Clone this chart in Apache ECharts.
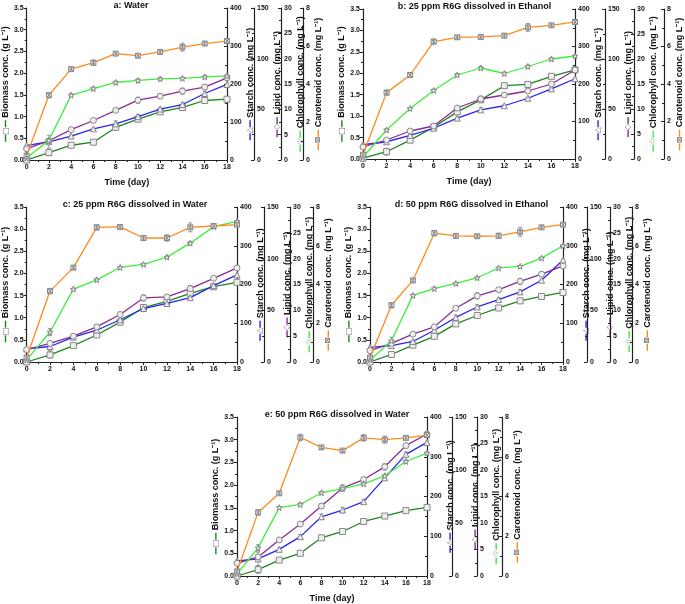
<!DOCTYPE html>
<html><head><meta charset="utf-8">
<script src="https://cdn.jsdelivr.net/npm/echarts@6/dist/echarts.min.js"></script>
<style>html,body{margin:0;background:#fff}#c{width:685px;height:604px}</style>
</head><body><div id="c"></div>
<script>
const days = [0, 2, 4, 6, 8, 10, 12, 14, 16, 18];
const panelTitles = ['a: Water', 'b: 25 ppm R6G dissolved in Ethanol', 'c: 25 ppm R6G dissolved in Water', 'd: 50 ppm R6G dissolved in Ethanol', 'e: 50 ppm R6G dissolved in Water'];
const seriesNames = ['Biomass conc. (g L⁻¹)', 'Starch conc. (mg L⁻¹)', 'Lipid conc. (mg L⁻¹)', 'Chlorophyll conc. (mg L⁻¹)', 'Carotenoid conc. (mg L⁻¹)'];
const axisMax = [3.5, 400, 150, 30, 8];
const axisInterval = [0.5, 100, 50, 5, 2];

// a: Water
const biomassA = [0.00, 0.17, 0.34, 0.41, 0.75, 0.94, 1.11, 1.21, 1.37, 1.40];
const starchA = [38, 48, 63, 82, 95, 114, 134, 146, 175, 199];
const lipidA = [11, 19, 30, 39, 49, 59, 63, 68, 72, 81];
const chlA = [0.4, 3.9, 12.8, 14.1, 15.3, 15.7, 16.0, 16.1, 16.4, 16.6];
const carA = [0.23, 3.41, 4.78, 5.12, 5.60, 5.49, 5.69, 5.94, 6.13, 6.26];
// b: 25 ppm Ethanol
const biomassB = [0.02, 0.17, 0.44, 0.74, 1.10, 1.38, 1.71, 1.74, 1.93, 2.08];
const starchB = [38, 46, 63, 82, 109, 131, 142, 162, 187, 214];
const lipidB = [12, 19, 28, 33, 51, 60, 64, 68, 75, 89];
const chlB = [0.4, 5.8, 10.1, 13.7, 16.8, 18.2, 17.1, 18.5, 20.0, 20.6];
const carB = [0.23, 3.54, 4.48, 6.26, 6.49, 6.51, 6.58, 7.02, 7.13, 7.31];
// c: 25 ppm Water
const biomassC = [0.00, 0.16, 0.37, 0.61, 0.90, 1.23, 1.37, 1.55, 1.70, 1.80];
const starchC = [34, 40, 64, 82, 109, 138, 151, 166, 197, 225];
const lipidC = [12, 18, 25, 34, 46, 62, 63, 71, 81, 91];
const chlC = [0.4, 5.8, 14.1, 15.9, 18.3, 18.9, 20.3, 23.0, 26.2, 27.2];
const carC = [0.23, 3.66, 4.87, 6.95, 6.97, 6.40, 6.40, 6.95, 7.02, 7.09];
// d: 50 ppm Ethanol
const biomassD = [0.00, 0.17, 0.38, 0.58, 0.86, 1.05, 1.22, 1.38, 1.48, 1.57];
const starchD = [38, 42, 53, 82, 115, 142, 161, 181, 211, 263];
const lipidD = [11, 18, 27, 34, 52, 64, 70, 78, 85, 93];
const chlD = [0.4, 4.1, 12.9, 14.2, 15.2, 16.3, 18.2, 18.5, 20.1, 22.5];
const carD = [0.23, 2.93, 4.21, 6.65, 6.51, 6.49, 6.51, 6.72, 6.95, 7.09];
// e: 50 ppm Water
const biomassE = [0.00, 0.14, 0.35, 0.50, 0.84, 0.98, 1.20, 1.32, 1.44, 1.51];
const starchE = [38, 43, 67, 99, 149, 166, 187, 247, 306, 336];
const lipidE = [12, 18, 34, 49, 66, 83, 91, 103, 123, 134];
const chlE = [0.4, 5.3, 12.9, 13.5, 15.7, 16.5, 17.4, 18.9, 21.6, 23.2];
const carE = [0.23, 3.20, 4.16, 6.97, 6.47, 6.31, 6.95, 6.86, 6.95, 7.09];

// standard deviations (error bars), same units as the series
const biomassErrA = [0.02, 0.07, 0.02, 0.03, 0.03, 0.03, 0.03, 0.03, 0.05, 0.02];
const starchErrA = [2, 17, 3, 2, 8, 6, 5, 5, 6, 2];
const lipidErrA = [1, 2, 2, 1, 2, 3, 2, 3, 2, 1];
const chlErrA = [0.2, 0.3, 0.3, 0.3, 0.3, 0.3, 0.3, 0.3, 0.3, 0.2];
const carErrA = [0.05, 0.14, 0.07, 0.14, 0.09, 0.07, 0.11, 0.21, 0.07, 0.07];

const biomassErrB = [0.02, 0.08, 0.02, 0.03, 0.03, 0.03, 0.02, 0.03, 0.03, 0.02];
const starchErrB = [2, 3, 3, 3, 3, 6, 3, 3, 3, 2];
const lipidErrB = [1, 2, 2, 2, 2, 3, 2, 2, 2, 1];
const chlErrB = [0.2, 0.3, 0.2, 0.3, 0.3, 0.3, 0.3, 0.3, 0.3, 0.2];
const carErrB = [0.05, 0.14, 0.07, 0.14, 0.09, 0.07, 0.11, 0.21, 0.07, 0.05];

const biomassErrC = [0.02, 0.07, 0.02, 0.03, 0.03, 0.04, 0.03, 0.03, 0.05, 0.02];
const starchErrC = [2, 11, 3, 3, 3, 8, 5, 5, 5, 2];
const lipidErrC = [1, 2, 1, 1, 2, 3, 2, 3, 1, 1];
const chlErrC = [0.2, 0.7, 0.2, 0.3, 0.2, 0.2, 0.2, 0.3, 0.3, 0.2];
const carErrC = [0.05, 0.14, 0.09, 0.14, 0.09, 0.07, 0.16, 0.23, 0.07, 0.07];

const biomassErrD = [0.02, 0.06, 0.02, 0.03, 0.03, 0.03, 0.03, 0.03, 0.05, 0.03];
const starchErrD = [2, 7, 3, 5, 6, 6, 5, 6, 3, 3];
const lipidErrD = [1, 2, 2, 2, 2, 3, 2, 3, 1, 1];
const chlErrD = [0.2, 0.7, 0.2, 0.3, 0.2, 0.2, 0.2, 0.2, 0.2, 0.2];
const carErrD = [0.05, 0.14, 0.09, 0.14, 0.11, 0.09, 0.14, 0.23, 0.07, 0.07];

const biomassErrE = [0.02, 0.08, 0.02, 0.03, 0.03, 0.03, 0.03, 0.04, 0.05, 0.03];
const starchErrE = [2, 17, 5, 5, 7, 7, 6, 6, 6, 3];
const lipidErrE = [1, 2, 2, 2, 2, 3, 2, 3, 2, 2];
const chlErrE = [0.2, 0.6, 0.2, 0.3, 0.3, 0.3, 0.3, 0.3, 0.3, 0.2];
const carErrE = [0.05, 0.14, 0.07, 0.16, 0.09, 0.07, 0.16, 0.18, 0.09, 0.07];

const panelData = [
  [biomassA, starchA, lipidA, chlA, carA],
  [biomassB, starchB, lipidB, chlB, carB],
  [biomassC, starchC, lipidC, chlC, carC],
  [biomassD, starchD, lipidD, chlD, carD],
  [biomassE, starchE, lipidE, chlE, carE]
];
const panelErr = [
  [biomassErrA, starchErrA, lipidErrA, chlErrA, carErrA],
  [biomassErrB, starchErrB, lipidErrB, chlErrB, carErrB],
  [biomassErrC, starchErrC, lipidErrC, chlErrC, carErrC],
  [biomassErrD, starchErrD, lipidErrD, chlErrD, carErrD],
  [biomassErrE, starchErrE, lipidErrE, chlErrE, carErrE]
];

const colors = ['#1c861c', '#2626f0', '#8a2a92', '#3af03a', '#ff8a1c'];
const STAR = 'path://M50,0 L61,35 L98,35 L68,57 L79,91 L50,70 L21,91 L32,57 L2,35 L39,35 Z';
const AST = 'path://M0,0 L100,0 L100,100 L0,100 Z M0,0 L100,100 M100,0 L0,100 M50,0 L50,100';
const symbols = ['rect', 'triangle', 'circle', STAR, AST];
const glyphs = ['□', '△', '◇', '☆', '⊠'];

const layouts = [
  {l: 25, t: 8, w: 202, h: 152, off: [0, 27, 54, 76], gaps: [14, 15, 12, 4, 3], xname: true},
  {l: 363, t: 9, w: 213, h: 150, off: [0, 30, 59, 89], gaps: [16, 6, 13, 14, 11], xname: true},
  {l: 23, t: 207, w: 214, h: 155, off: [0, 27, 53, 76], gaps: [12, 15, 13, 11, 6], xname: false},
  {l: 370, t: 207, w: 193, h: 155, off: [0, 24, 47, 69], gaps: [14, 13, 12, 9, 7], xname: false},
  {l: 237, t: 417, w: 190, h: 162, off: [0, 25, 50, 75], gaps: [14, 14, 14, 12, 9], xname: true}
];

const FONT = 'Liberation Sans';
const grids = [], xAxes = [], yAxes = [], series = [], titles = [];

function nameRich(k) {
  return '{l| }{g|' + glyphs[k] + '}{l| } ' + seriesNames[k];
}
function richFor(k) {
  return {
    l: {width: 7, height: 1.4, backgroundColor: colors[k], fontSize: 2},
    g: {color: '#777', fontSize: 8, fontFamily: 'DejaVu Sans'}
  };
}
function errRender(params, api) {
  const x = api.value(0), y = api.value(1), e = api.value(2);
  const lo = api.coord([x, y - e]), hi = api.coord([x, y + e]);
  const cap = 2;
  const st = {stroke: '#8a8a8a', lineWidth: 0.9, fill: null};
  return {type: 'group', children: [
    {type: 'line', shape: {x1: lo[0], y1: lo[1], x2: hi[0], y2: hi[1]}, style: st},
    {type: 'line', shape: {x1: lo[0] - cap, y1: lo[1], x2: lo[0] + cap, y2: lo[1]}, style: st},
    {type: 'line', shape: {x1: hi[0] - cap, y1: hi[1], x2: hi[0] + cap, y2: hi[1]}, style: st}
  ]};
}

layouts.forEach((L, p) => {
  grids.push({left: L.l, top: L.t, width: L.w, height: L.h, containLabel: false});
  titles.push({
    text: panelTitles[p], left: L.l + L.w / 2, top: L.t - 12, textAlign: 'center',
    textStyle: {fontFamily: FONT, fontWeight: 'bold', fontSize: 9, color: '#111'}
  });
  xAxes.push({
    type: 'value', gridIndex: p, min: 0, max: 18, interval: 2,
    name: L.xname ? 'Time (day)' : '', nameLocation: 'middle', nameGap: 18,
    nameTextStyle: {fontFamily: FONT, fontWeight: 'bold', fontSize: 9, color: '#111'},
    axisLine: {onZero: false, lineStyle: {color: '#222', width: 1.2}},
    axisTick: {inside: false, length: 3, lineStyle: {color: '#222'}},
    minorTick: {show: true, splitNumber: 2, length: 2, lineStyle: {color: '#222'}},
    axisLabel: {fontFamily: FONT, fontWeight: 'bold', fontSize: 7, color: '#111', margin: 4},
    splitLine: {show: false}
  });
  for (let k = 0; k < 5; k++) {
    const left = k === 0;
    yAxes.push({
      type: 'value', gridIndex: p, min: 0, max: axisMax[k], interval: axisInterval[k],
      position: left ? 'left' : 'right', offset: left ? 0 : L.off[k - 1],
      name: nameRich(k), nameLocation: 'middle', nameGap: L.gaps[k],
      nameTextStyle: {fontFamily: FONT, fontWeight: 'bold', fontSize: 9, color: '#111', rich: richFor(k)},
      axisLine: {show: true, onZero: false, lineStyle: {color: '#222', width: 1.2}},
      axisTick: {inside: !left, length: 3, lineStyle: {color: '#222'}},
      minorTick: {show: true, splitNumber: 2, length: 2, lineStyle: {color: '#222'}},
      axisLabel: {
        fontFamily: FONT, fontWeight: 'bold', fontSize: 7, color: '#111', margin: 3,
        formatter: k === 0 ? (v => v.toFixed(1)) : (v => String(v))
      },
      splitLine: {show: false}
    });
    series.push({
      type: 'custom', xAxisIndex: p, yAxisIndex: p * 5 + k,
      data: days.map((d, i) => [d, panelData[p][k][i], panelErr[p][k][i]]),
      renderItem: errRender, z: 2, silent: true, animation: false,
      encode: {x: 0, y: [1]}
    });
    series.push({
      type: 'line', xAxisIndex: p, yAxisIndex: p * 5 + k,
      data: days.map((d, i) => [d, panelData[p][k][i]]),
      symbol: symbols[k], symbolSize: k === 4 ? 5 : 6, showSymbol: true,
      lineStyle: {color: colors[k], width: 1.3},
      itemStyle: {color: '#eee', borderColor: '#888', borderWidth: 1},
      z: 3 + k, animation: false
    });
  }
});

const chart = echarts.init(document.getElementById('c'), null, {renderer: 'canvas'});
chart.setOption({
  backgroundColor: '#fff', animation: false,
  title: titles, grid: grids, xAxis: xAxes, yAxis: yAxes, series: series
});
</script></body></html>
